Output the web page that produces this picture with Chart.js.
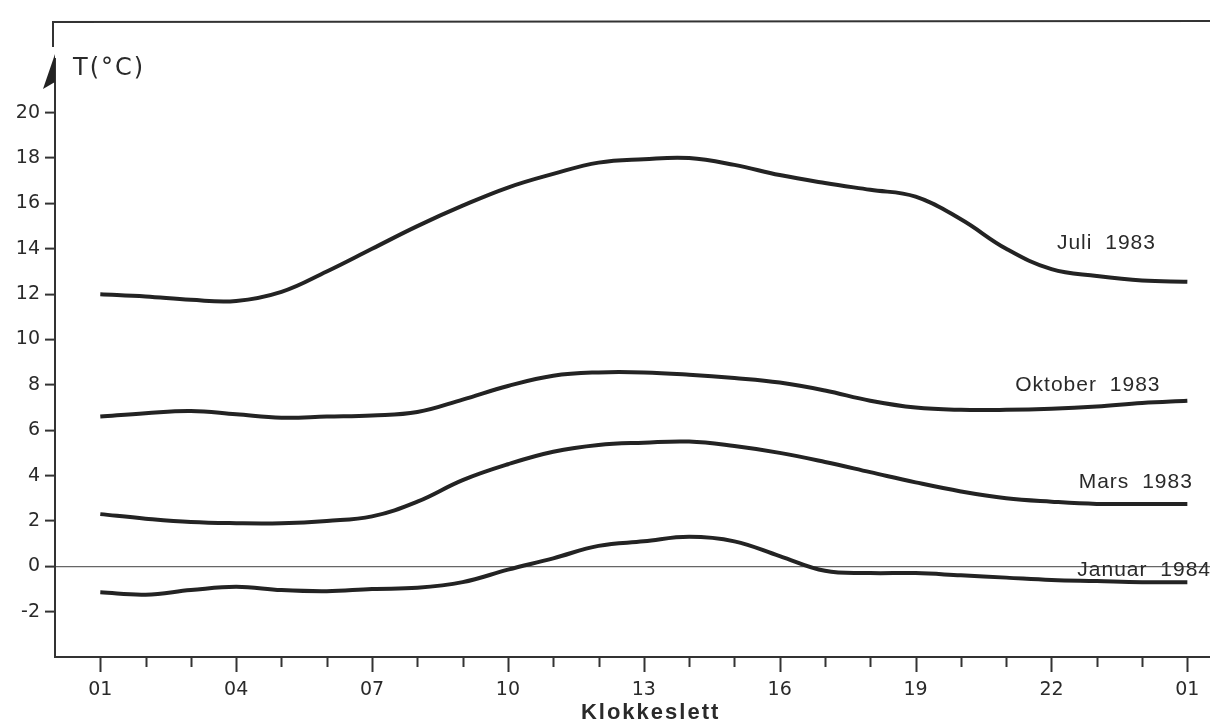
<!DOCTYPE html>
<html>
<head>
<meta charset="utf-8">
<title>Lufttemperatur gjennom døgnet</title>
<script src="https://cdn.jsdelivr.net/npm/chart.js@4.4.1/dist/chart.umd.min.js"></script>
<style>
  html, body { margin: 0; padding: 0; background: #fff; }
  canvas { display: block; }
</style>
</head>
<body>
<canvas id="tempChart" width="1210" height="723"></canvas>
<script>
// hourly readings, 01 through 01 the next night
const clockLabels = ['01', '02', '03', '04', '05', '06', '07', '08', '09', '10', '11', '12',
  '13', '14', '15', '16', '17', '18', '19', '20', '21', '22', '23', '24', '01'];

const juli1983 = [12.0, 11.9, 11.75, 11.7, 12.1, 13.0, 14.0, 15.0, 15.9, 16.7, 17.3, 17.8,
  17.95, 18.0, 17.7, 17.25, 16.9, 16.6, 16.3, 15.3, 14.0, 13.1, 12.8, 12.6, 12.55];
const oktober1983 = [6.6, 6.75, 6.85, 6.7, 6.55, 6.6, 6.65, 6.8, 7.35, 7.95, 8.4, 8.55,
  8.55, 8.45, 8.3, 8.1, 7.75, 7.3, 7.0, 6.9, 6.9, 6.95, 7.05, 7.2, 7.3];
const mars1983 = [2.3, 2.1, 1.95, 1.9, 1.9, 2.0, 2.2, 2.85, 3.8, 4.5, 5.05, 5.35,
  5.45, 5.5, 5.3, 5.0, 4.6, 4.15, 3.7, 3.3, 3.0, 2.85, 2.75, 2.75, 2.75];
const januar1984 = [-1.15, -1.25, -1.05, -0.9, -1.05, -1.1, -1.0, -0.95, -0.7, -0.15, 0.35, 0.9,
  1.1, 1.3, 1.1, 0.45, -0.2, -0.3, -0.3, -0.4, -0.5, -0.6, -0.65, -0.7, -0.7];

const seriesNames = ['Juli 1983', 'Oktober 1983', 'Mars 1983', 'Januar 1984'];
const yTicks = [-2, 0, 2, 4, 6, 8, 10, 12, 14, 16, 18, 20];
const yTitle = 'T(°C)';
const xTitle = 'Klokkeslett';

const INK = '#232323';
const TEXT = '#2a2a2a';

function toPoints(values) {
  return values.map((v, i) => ({ x: i, y: v }));
}

const allSeries = [juli1983, oktober1983, mars1983, januar1984];

// where each curve name sits (hour index of text start, temperature of text middle)
const nameAnchors = [
  { x: 21.12, y: 14.25 },
  { x: 20.2, y: 8.0 },
  { x: 21.6, y: 3.72 },
  { x: 21.57, y: -0.16 },
];

const decorations = {
  id: 'decorations',
  afterDraw(chart) {
    const { ctx, chartArea, scales } = chart;
    const xs = scales.x;
    const ys = scales.y;
    const left = chartArea.left;
    ctx.save();

    // frame: top rule with a short drop, then the y axis under its arrow
    ctx.strokeStyle = '#333';
    ctx.lineWidth = 2;
    ctx.beginPath();
    ctx.moveTo(left - 2, 47);
    ctx.lineTo(left - 2, chartArea.top);
    ctx.lineTo(chartArea.right, chartArea.top - 1);
    ctx.stroke();

    ctx.beginPath();
    ctx.moveTo(left, 58);
    ctx.lineTo(left, chartArea.bottom);
    ctx.stroke();

    ctx.fillStyle = INK;
    ctx.beginPath();
    ctx.moveTo(left, 54);
    ctx.lineTo(left - 12, 89);
    ctx.lineTo(left, 82);
    ctx.closePath();
    ctx.fill();

    // hour tick marks below the time axis, longer every third hour
    ctx.strokeStyle = '#333';
    ctx.lineWidth = 2;
    xs.ticks.forEach(t => {
      const px = Math.round(xs.getPixelForValue(t.value)) + 0.5;
      const len = t.value % 3 === 0 ? 15 : 10;
      ctx.beginPath();
      ctx.moveTo(px, chartArea.bottom);
      ctx.lineTo(px, chartArea.bottom + len);
      ctx.stroke();
    });

    // axis titles
    ctx.fillStyle = TEXT;
    ctx.letterSpacing = '2px';
    ctx.font = '24px "DejaVu Sans"';
    ctx.textAlign = 'left';
    ctx.textBaseline = 'middle';
    ctx.fillText(yTitle, left + 18, 69);

    ctx.letterSpacing = '2px';
    ctx.font = 'bold 22px "Liberation Sans"';
    ctx.textAlign = 'center';
    ctx.textBaseline = 'alphabetic';
    ctx.fillText(xTitle, xs.getPixelForValue(12.15), 719);

    // curve names
    ctx.letterSpacing = '1px';
    ctx.wordSpacing = '6px';
    ctx.font = '21px "Liberation Sans"';
    ctx.textAlign = 'left';
    ctx.textBaseline = 'middle';
    seriesNames.forEach((name, i) => {
      const a = nameAnchors[i];
      ctx.fillText(name, xs.getPixelForValue(a.x), ys.getPixelForValue(a.y));
    });
    ctx.restore();
  }
};

new Chart(document.getElementById('tempChart'), {
  type: 'line',
  data: {
    datasets: allSeries.map((values, i) => ({
      label: seriesNames[i],
      data: toPoints(values),
      borderColor: INK,
      borderWidth: 4,
      pointRadius: 0,
      tension: 0.4,
      fill: false,
    })),
  },
  options: {
    responsive: false,
    animation: false,
    layout: { padding: { top: 22, right: 0, left: 0, bottom: 0 } },
    plugins: {
      legend: { display: false },
      tooltip: { enabled: false },
    },
    scales: {
      x: {
        type: 'linear',
        min: -1,
        max: 24.5,
        afterBuildTicks: s => { s.ticks = clockLabels.map((_, i) => ({ value: i })); },
        afterFit: s => {
          s.height = 66;
          s.paddingLeft = 0;
          s.paddingRight = 0;
        },
        grid: { drawOnChartArea: false, drawTicks: false },
        border: { display: true, color: '#333', width: 2 },
        ticks: {
          autoSkip: false,
          maxRotation: 0,
          padding: 22,
          color: TEXT,
          font: { family: 'DejaVu Sans', size: 19 },
          callback: v => (v % 3 === 0 ? clockLabels[v] : ''),
        },
      },
      y: {
        min: -4,
        max: 24,
        afterBuildTicks: s => { s.ticks = yTicks.map(v => ({ value: v })); },
        afterFit: s => {
          s.width = 55;
          s.paddingTop = 0;
          s.paddingBottom = 0;
        },
        grid: {
          drawOnChartArea: true,
          color: c => (c.tick && c.tick.value === 0 ? '#666' : 'rgba(0,0,0,0)'),
          lineWidth: 1.2,
          tickLength: 10,
          tickColor: '#333',
          tickWidth: 2,
        },
        border: { display: false },
        ticks: {
          padding: 5,
          color: TEXT,
          font: { family: 'DejaVu Sans', size: 19 },
          callback: v => String(v),
        },
      },
    },
  },
  plugins: [decorations],
});
</script>
</body>
</html>
